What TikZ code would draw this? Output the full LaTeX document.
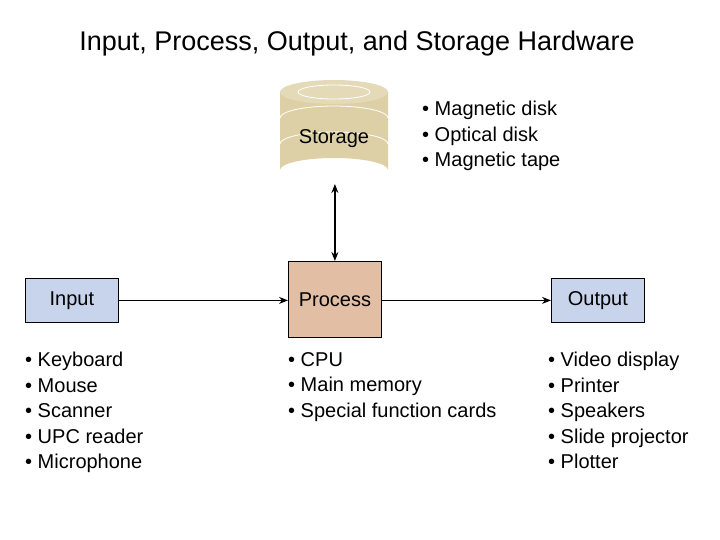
\documentclass[tikz,border=0pt]{standalone}
\usepackage{fontspec}
\setmainfont{Liberation Sans}
\usetikzlibrary{arrows.meta}
\definecolor{inblue}{RGB}{200,212,236}
\definecolor{proctan}{RGB}{226,190,165}
\definecolor{disktan}{RGB}{222,208,166}
\tikzset{
  box/.style={draw, thick, minimum width=93pt, anchor=north west, font=\fontsize{20}{22}\selectfont},
  items/.style={anchor=north west, align=left, font=\fontsize{20}{25.5}\selectfont, inner sep=0pt},
  link/.style={line width=1.2pt, -{Stealth[length=9pt,width=7pt]}}
}
\begin{document}
\begin{tikzpicture}[x=1pt, y=-1pt]
		\useasboundingbox (0,0) rectangle (720,540);
		\node[font=\fontsize{27}{30}\selectfont] (title) at (357,44) {Input, Process, Output, and Storage Hardware};

		% storage disk
		\fill[disktan] (280,92) -- (280,170) arc[start angle=180, end angle=360, x radius=54, y radius=12] -- (388,92) -- cycle;
		\foreach \y in {118,144}
			\draw[white, thick] (280,\y) arc[start angle=180, end angle=360, x radius=54, y radius=12];
		\fill[disktan!80!white] (334,92) ellipse[x radius=54, y radius=12];
		\draw[white, thick] (334,92) ellipse[x radius=36, y radius=7];
		\node[font=\fontsize{20}{22}\selectfont] (storage) at (334,139) {Storage};

		\node[box, fill=inblue, minimum height=44pt] (input) at (25,278) {Input};
		\node[box, fill=proctan, minimum height=76pt] (process) at (288,261) {Process};
		\node[box, fill=inblue, minimum height=44pt] (output) at (551,278) {Output};
		\coordinate (disk) at (process.north |- 0,184);

		\draw[link, {Stealth[length=9pt,width=7pt]}-{Stealth[length=9pt,width=7pt]}] (disk) -- (process);
		\draw[link] (input) -- (process.west |- input);
		\draw[link] (process.east |- output) -- (output);

		\node[items] (storelist) at (422,101) {• Magnetic disk\\• Optical disk\\• Magnetic tape};
		\node[items] (inlist) at (25,352) {• Keyboard\\• Mouse\\• Scanner\\• UPC reader\\• Microphone};
		\node[items] (proclist) at (288,352) {• CPU\\• Main memory\\• Special function cards};
		\node[items] (outlist) at (548,352) {• Video display\\• Printer\\• Speakers\\• Slide projector\\• Plotter};
	\end{tikzpicture}
\end{document}
